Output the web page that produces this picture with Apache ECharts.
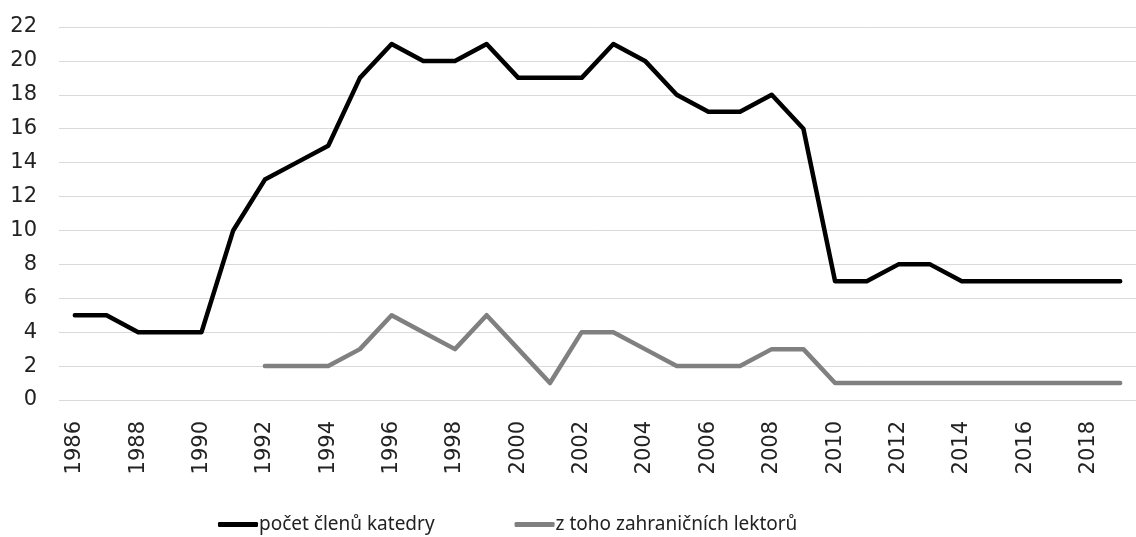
<!DOCTYPE html>
<html><head><meta charset="utf-8">
<script src="https://cdn.jsdelivr.net/npm/echarts@6/dist/echarts.min.js"></script>
<style>html,body{margin:0;padding:0;background:#fff}#c{width:1136px;height:537px}</style>
</head><body><div id="c"></div>
<script>
const years = ['1986','1987','1988','1989','1990','1991','1992','1993','1994','1995','1996','1997','1998','1999','2000','2001','2002','2003','2004','2005','2006','2007','2008','2009','2010','2011','2012','2013','2014','2015','2016','2017','2018','2019'];
const members = [5,5,4,4,4,10,13,14,15,19,21,20,20,21,19,19,19,21,20,18,17,17,18,16,7,7,8,8,7,7,7,7,7,7];
const foreign = [null,null,null,null,null,null,2,2,2,3,5,4,3,5,3,1,4,4,3,2,2,2,3,3,1,1,1,1,1,1,1,1,1,1];
const seriesNames = ['počet členů katedry','z toho zahraničních lektorů'];
const axisFont = "'DejaVu Sans', sans-serif";
const legendFont = "'Noto Sans', sans-serif";
const chart = echarts.init(document.getElementById('c'));
chart.setOption({
  animation:false,
  grid:{left:59, top:27, bottom:137, width:1087},
  legend:{
    top:510, left:213, itemGap:80, itemWidth:40, itemHeight:5, icon:'roundRect',
    textStyle:{fontFamily:legendFont, fontSize:19, color:'#222', padding:[0,0,0,-4]},
    data:seriesNames
  },
  xAxis:{
    type:'category', data:years, boundaryGap:true,
    axisLine:{show:false}, axisTick:{show:false},
    axisLabel:{rotate:90, interval:1, fontFamily:axisFont, fontSize:21, color:'#222', margin:21}
  },
  yAxis:{
    type:'value', min:0, max:22, interval:2,
    axisLine:{show:false}, axisTick:{show:false},
    axisLabel:{fontFamily:axisFont, fontSize:21, color:'#222', margin:22},
    splitLine:{lineStyle:{color:'#d9d9d9', width:1}}
  },
  series:[
    {name:seriesNames[0], type:'line', data:members, showSymbol:false, symbol:'none',
     lineStyle:{color:'#000', width:4.5, cap:'round', join:'round'}, itemStyle:{color:'#000'}},
    {name:seriesNames[1], type:'line', data:foreign, showSymbol:false, symbol:'none',
     lineStyle:{color:'#808080', width:4.5, cap:'round', join:'round'}, itemStyle:{color:'#808080'}}
  ]
});
</script></body></html>
